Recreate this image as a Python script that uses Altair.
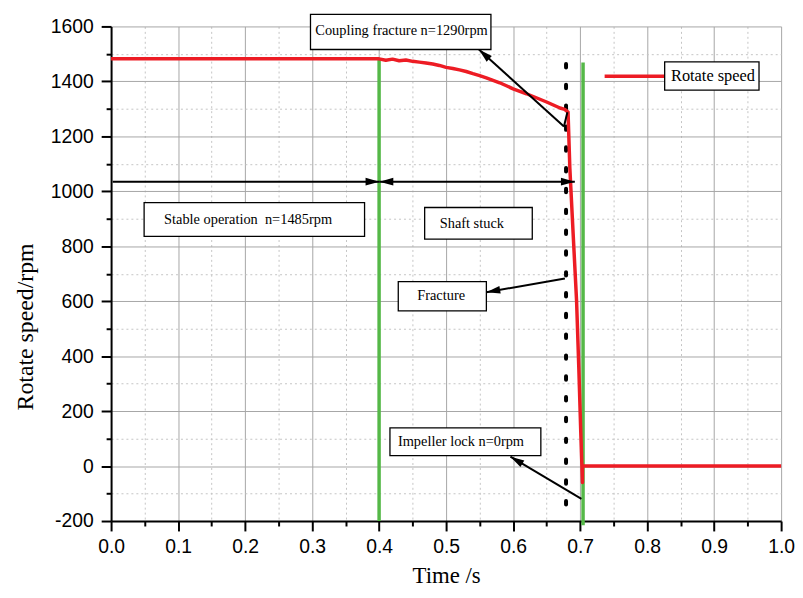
import math
import altair as alt
import pandas as pd

# ---------------- data ----------------
time_s = [0.0, 0.40, 0.41, 0.42, 0.43, 0.44, 0.45, 0.46, 0.47, 0.48, 0.49, 0.50,
          0.51, 0.52, 0.53, 0.54, 0.55, 0.56, 0.57, 0.58, 0.59, 0.60, 0.61, 0.62,
          0.63, 0.64, 0.65, 0.66, 0.67, 0.677, 0.682, 0.6847, 0.6896, 0.6947,
          0.698, 0.701, 0.7035, 0.7035, 1.0]
speed_rpm = [1482, 1482, 1477, 1481, 1475, 1478, 1473, 1470, 1467, 1463, 1458, 1451,
             1447, 1442, 1436, 1428, 1421, 1413, 1404, 1395, 1384, 1373, 1364, 1355,
             1345, 1335, 1325, 1314, 1303, 1298, 1288, 1084, 845, 603,
             362, 122, -60, 0, 0]

x_major = [0.0, 0.1, 0.2, 0.3, 0.4, 0.5, 0.6, 0.7, 0.8, 0.9, 1.0]
x_minor = [0.05, 0.15, 0.25, 0.35, 0.45, 0.55, 0.65, 0.75, 0.85, 0.95]
y_major = [-200, 0, 200, 400, 600, 800, 1000, 1200, 1400, 1600]
y_minor = [-100, 100, 300, 500, 700, 900, 1100, 1300, 1500]

green_t = [0.40, 0.7044]
green_top = [1482, 1469]
green_bottom = [-200, -215]

dot_t = [0.679]
dot_top = [1482]
dot_bottom = [-140]

# arrows: tail -> head (head drawn with an arrowhead)
arrow_t0 = [0.6759, 0.6773, 0.702, 0.0024, 0.4005, 0.6759]
arrow_v0 = [1236, 683, -119.7, 1035, 1035, 1236]
arrow_t1 = [0.549, 0.5601, 0.596, 0.4005, 0.6921, 0.681]
arrow_v1 = [1516, 632.6, 34.2, 1035, 1035, 1288]
arrow_head = [True, True, True, True, True, False]
# extra head at the start of the "shaft stuck" double arrow
extra_head_t = [0.4005]
extra_head_v = [1035]
extra_head_from_t = [0.6921]
extra_head_from_v = [1035]

box_text = ["Coupling fracture n=1290rpm", "Stable operation\u00a0 n=1485rpm",
            "Shaft stuck", "Fracture", "Impeller lock n=0rpm", "Rotate speed"]
box_t0 = [0.2976, 0.0493, 0.468, 0.4286, 0.4162, 0.8262]
box_t1 = [0.5669, 0.3783, 0.6286, 0.5601, 0.6414, 0.967]
box_v0 = [1644, 959, 941, 671, 138.8, 1471]
box_v1 = [1516, 835.6, 826, 565, 37.9, 1368]
text_t = [0.4335, 0.2044, 0.5384, 0.4926, 0.5222, 0.8983]
text_v = [1582, 897, 882, 619, 85.8, 1420]
text_size = [14.5, 14.5, 14.5, 14.5, 14.5, 16.5]

legend_t0 = [0.7366]
legend_t1 = [0.8262]
legend_v = [1418.6]

# ---------------- layout ----------------
W, H = 676, 499
T_DOM = [0.0, 1.0]
V_DOM = [-200, 1600]
PX_T = W / (T_DOM[1] - T_DOM[0])
PX_V = H / (V_DOM[1] - V_DOM[0])

RED = "#ed1c24"
GREEN = "#55b848"

xs = alt.Scale(domain=T_DOM, nice=False, zero=False)
ys = alt.Scale(domain=V_DOM, nice=False, zero=False)

curve = pd.DataFrame({"t": time_s, "v": speed_rpm, "i": list(range(len(time_s)))})

x_axis_major = alt.Axis(
    values=x_major, format=".1f", orient="bottom", grid=True, gridColor="#a6a6a6",
    gridWidth=1, tickSize=10, tickWidth=2, tickColor="black", domainColor="black",
    domainWidth=2, labelFont="Liberation Sans", labelFontSize=19.5, labelColor="black",
    labelPadding=7, labelFlush=False, labelOverlap=False, labelBound=False,
    title="Time /s", titleFont="Liberation Serif", titleFontSize=23,
    titleFontWeight="normal", titleColor="black", titleX=W / 2, titleY=55,
    titleBaseline="middle", titleAlign="center")
y_axis_major = alt.Axis(
    values=y_major, orient="left", grid=True, gridColor="#a6a6a6",
    labelExpr="'' + datum.value",
    gridWidth=1, tickSize=10, tickWidth=2, tickColor="black", domainColor="black",
    domainWidth=2, labelFont="Liberation Sans", labelFontSize=19.5, labelColor="black",
    labelPadding=8, labelFlush=False, labelOverlap=False, labelBound=False,
    title="Rotate speed/rpm", titleFont="Liberation Serif", titleFontSize=24,
    titleFontWeight="normal", titleColor="black", titleAngle=270, titleX=-86,
    titleY=302.7, titleBaseline="middle", titleAlign="center")
x_axis_minor = alt.Axis(
    values=x_minor, orient="bottom", grid=True, gridColor="#c4c4c4", gridWidth=1,
    gridDash=[2, 3], tickSize=5, tickWidth=2, tickColor="black", domain=False,
    labels=False, title=None)
y_axis_minor = alt.Axis(
    values=y_minor, orient="left", grid=True, gridColor="#c4c4c4", gridWidth=1,
    gridDash=[2, 3], tickSize=5, tickWidth=2, tickColor="black", domain=False,
    labels=False, title=None)

major_layer = alt.Chart(curve).mark_point(opacity=0).encode(
    x=alt.X("t:Q", scale=xs, axis=x_axis_major),
    y=alt.Y("v:Q", scale=ys, axis=y_axis_major))
minor_layer = alt.Chart(curve).mark_point(opacity=0).encode(
    x=alt.X("t:Q", scale=xs, axis=x_axis_minor),
    y=alt.Y("v:Q", scale=ys, axis=y_axis_minor))

greens = pd.DataFrame({"t": green_t, "v0": green_bottom, "v1": green_top})
green_layer = alt.Chart(greens).mark_rule(color=GREEN, strokeWidth=3.5).encode(
    x=alt.X("t:Q", scale=xs, axis=None),
    y=alt.Y("v0:Q", scale=ys, axis=None), y2="v1:Q")

dots = pd.DataFrame({"t": dot_t, "v0": dot_bottom, "v1": dot_top})
dot_layer = alt.Chart(dots).mark_rule(
    color="black", strokeWidth=4, strokeDash=[3.5, 17.5], strokeCap="round").encode(
    x=alt.X("t:Q", scale=xs, axis=None),
    y=alt.Y("v0:Q", scale=ys, axis=None), y2="v1:Q")

red_layer = alt.Chart(curve).mark_line(color=RED, strokeWidth=3.5, strokeJoin="round").encode(
    x=alt.X("t:Q", scale=xs, axis=None),
    y=alt.Y("v:Q", scale=ys, axis=None),
    order="i:Q")

shafts = pd.DataFrame({"t0": arrow_t0, "v0": arrow_v0, "t1": arrow_t1, "v1": arrow_v1})
shaft_layer = alt.Chart(shafts).mark_rule(color="black", strokeWidth=2).encode(
    x=alt.X("t0:Q", scale=xs, axis=None), x2="t1:Q",
    y=alt.Y("v0:Q", scale=ys, axis=None), y2="v1:Q")


def head_angle(tf, vf, tt, vt):
    dx = (tt - tf) * PX_T
    dup = (vt - vf) * PX_V
    return math.degrees(math.atan2(dx, dup)) % 360


head_rows = []
for a, b, c, d, h in zip(arrow_t0, arrow_v0, arrow_t1, arrow_v1, arrow_head):
    if h:
        head_rows.append({"t": c, "v": d, "ang": head_angle(a, b, c, d)})
for a, b, c, d in zip(extra_head_from_t, extra_head_from_v, extra_head_t, extra_head_v):
    head_rows.append({"t": c, "v": d, "ang": head_angle(a, b, c, d)})
heads = pd.DataFrame(head_rows)
ARROW = "M0,0 L0.55,2 L-0.55,2 Z"
head_layer = alt.Chart(heads).mark_point(
    shape=ARROW, filled=True, size=196, color="black", opacity=1, strokeWidth=0).encode(
    x=alt.X("t:Q", scale=xs, axis=None),
    y=alt.Y("v:Q", scale=ys, axis=None),
    angle=alt.Angle("ang:Q", scale=None))

legend_df = pd.DataFrame({"t0": legend_t0, "t1": legend_t1, "v": legend_v})
legend_layer = alt.Chart(legend_df).mark_rule(color=RED, strokeWidth=3.5).encode(
    x=alt.X("t0:Q", scale=xs, axis=None), x2="t1:Q",
    y=alt.Y("v:Q", scale=ys, axis=None))

boxes = pd.DataFrame({"label": box_text, "t0": box_t0, "t1": box_t1,
                      "v0": box_v0, "v1": box_v1, "tt": text_t, "tv": text_v,
                      "fs": text_size})
box_layer = alt.Chart(boxes).mark_rect(fill="white", stroke="black", strokeWidth=1.3).encode(
    x=alt.X("t0:Q", scale=xs, axis=None), x2="t1:Q",
    y=alt.Y("v0:Q", scale=ys, axis=None), y2="v1:Q")
text_layer = alt.Chart(boxes).mark_text(
    font="Liberation Serif", color="black", align="center", baseline="middle").encode(
    x=alt.X("tt:Q", scale=xs, axis=None),
    y=alt.Y("tv:Q", scale=ys, axis=None),
    text="label:N",
    size=alt.Size("fs:Q", scale=None))

chart = alt.layer(
    minor_layer, major_layer, green_layer, dot_layer, red_layer, shaft_layer,
    head_layer, legend_layer, box_layer, text_layer
).resolve_axis(x="independent", y="independent").properties(
    width=W, height=H,
    autosize=alt.AutoSizeParams(type="none"),
    padding={"left": 104, "top": 16, "right": 14, "bottom": 68},
).configure_view(strokeWidth=0)

chart.save("out.html", embed_options={"renderer": "svg", "actions": False})
